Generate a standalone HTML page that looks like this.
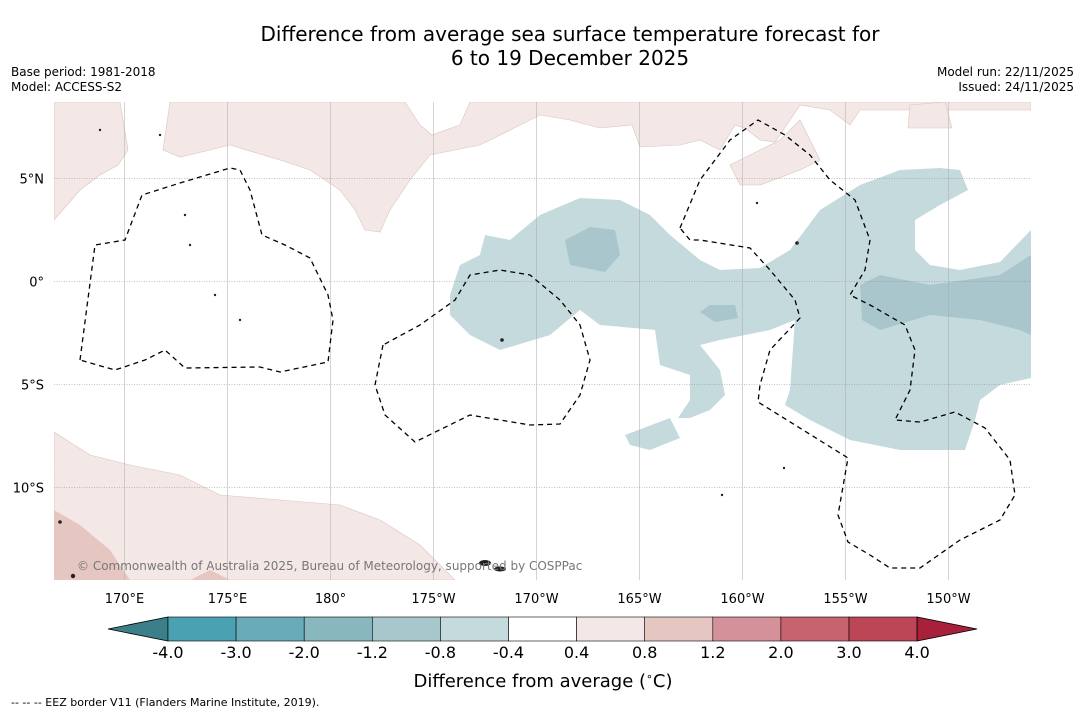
<!DOCTYPE html>
<html><head><meta charset="utf-8"><style>
body{margin:0;background:#fff;font-family:"DejaVu Sans","Liberation Sans",sans-serif}
#wrap{position:relative;width:1085px;height:713px;overflow:hidden}
.t{position:absolute;white-space:nowrap;color:#000}
svg text{font-family:"DejaVu Sans","Liberation Sans",sans-serif}
</style></head><body>
<div id="wrap">
<div class="t" style="left:0;width:1140px;top:22px;text-align:center;font-size:20px;line-height:24px">Difference from average sea surface temperature forecast for<br>6 to 19 December 2025</div>
<div class="t" style="left:11px;top:65px;font-size:12px;line-height:15px">Base period: 1981-2018<br>Model: ACCESS-S2</div>
<div class="t" style="right:11px;top:65px;font-size:12px;line-height:15px;text-align:right">Model run: 22/11/2025<br>Issued: 24/11/2025</div>
<svg id="map" width="1085" height="713" style="position:absolute;left:0;top:0">
<defs><clipPath id="mc"><rect x="54" y="102" width="977" height="478"/></clipPath></defs>
<g clip-path="url(#mc)">
<g fill="#f4e8e6" stroke="#d9c4c2" stroke-width="0.6">
<path d="M54,102L120,102L128,150L118,165L100,175L80,190L54,220Z"/>
<path d="M170,102L405,102L420,125L432,135L460,125L470,102L1031,102L1031,110L860,110L850,125L830,110L800,105L790,120L775,142L760,140L745,128L735,125L720,150L700,140L680,145L640,147L632,125L600,128L570,120L540,115L520,125L480,145L430,155L410,180L390,210L380,232L365,230L355,210L340,190L310,170L280,160L230,145L210,150L180,157L163,150Z"/>
<path d="M780,140L800,120L820,160L800,170L760,185L740,185L730,165L760,150Z"/>
<path d="M910,105L945,102L952,128L908,128Z"/>
<path d="M54,432L90,455L130,465L180,475L220,495L280,500L340,505L380,520L420,545L455,580L54,580Z"/>
</g>
<path d="M54,510L80,525L110,550L130,580L54,580Z M190,580L210,570L230,580Z" fill="#e6c6c1"/>
<g fill="#c5dadd">
<path d="M450,295L460,265L480,255L485,235L510,240L540,215L580,198L620,200L650,215L670,235L700,260L720,270L760,268L790,250L820,210L860,185L900,170L940,168L960,170L968,190L940,205L915,220L915,250L930,265L960,270L1000,262L1031,230L1031,378L1000,385L980,400L975,420L965,450L900,450L850,440L810,420L785,405L790,390L795,320L770,330L720,340L700,345L720,370L725,395L710,410L690,418L678,418L690,400L690,375L660,365L655,330L600,325L580,310L550,335L500,350L470,335L450,315Z"/>
<path d="M625,435L670,418L680,438L650,450L630,445Z"/>
</g>
<g fill="#a8c6cc">
<path d="M565,240L590,227L615,230L620,255L605,272L570,265Z"/>
<path d="M700,312L710,305L735,305L738,318L715,322Z"/>
<path d="M860,285L880,275L930,285L1000,275L1031,255L1031,335L1020,330L980,320L930,315L880,330L862,320Z"/>
</g>
<g id="grid"></g>
<g fill="none" stroke="#000" stroke-width="1.3" stroke-dasharray="5,4">
<path d="M80,360L95,245L125,240L142,195L180,183L230,168L240,170L250,190L262,235L285,245L310,258L328,295L333,320L328,362L280,372L260,367L185,368L165,350L145,360L115,370Z"/>
<path d="M383,345L375,385L385,415L415,442L470,415L530,425L560,424L580,395L590,360L580,325L560,300L530,275L500,270L470,275L455,300L420,325Z"/>
<path d="M680,228L700,180L730,140L758,120L785,135L810,155L830,180L855,200L870,240L865,270L850,295L870,305L905,325L915,350L910,390L895,420L920,422L955,412L985,428L1010,460L1015,495L1000,520L960,540L920,568L890,568L870,555L848,542L838,515L848,458L758,402L760,385L770,350L800,318L795,300L770,270L750,248L700,240L690,240Z"/>
</g>
<g fill="#222">
<circle cx="100" cy="130" r="1.2"/><circle cx="185" cy="215" r="1.2"/><circle cx="190" cy="245" r="1.2"/><circle cx="215" cy="295" r="1.2"/><circle cx="240" cy="320" r="1.2"/><circle cx="502" cy="340" r="1.8"/><circle cx="797" cy="243" r="1.8"/><circle cx="757" cy="203" r="1.2"/><circle cx="722" cy="495" r="1.2"/><circle cx="60" cy="522" r="1.8"/><circle cx="73" cy="576" r="2.2"/>
<ellipse cx="485" cy="563" rx="6" ry="3"/><ellipse cx="500" cy="569" rx="6" ry="2.5"/><circle cx="160" cy="135" r="1.2"/><circle cx="784" cy="468" r="1.2"/>
</g>
<text x="77" y="570" font-size="12" fill="#777">© Commonwealth of Australia 2025, Bureau of Meteorology, supported by COSPPac</text>
</g>
<g id="axes" font-size="13"></g>
<g id="cbar"></g>
<text x="543" y="687" font-size="18" text-anchor="middle">Difference from average (<tspan font-size="11" dy="-7">∘</tspan><tspan dy="7">C)</tspan></text>
<text x="11" y="706" font-size="11">--  --  -- EEZ border V11 (Flanders Marine Institute, 2019).</text>
</svg>
</div>
<script>
const lonTicks=[170,175,180,-175,-170,-165,-160,-155,-150];
const lonLabels=["170°E","175°E","180°","175°W","170°W","165°W","160°W","155°W","150°W"];
const latTicks=[5,0,-5,-10];
const latLabels=["5°N","0°","5°S","10°S"];
const cbarBounds=[-4.0,-3.0,-2.0,-1.2,-0.8,-0.4,0.4,0.8,1.2,2.0,3.0,4.0];
const cbarLabels=["-4.0","-3.0","-2.0","-1.2","-0.8","-0.4","0.4","0.8","1.2","2.0","3.0","4.0"];
const cbarColors=["#4aa1b1","#6aabb9","#88b7be","#a8c7cc","#c5dadd","#ffffff","#f4e8e6","#e6c6c1","#d4919a","#c6636f","#bc4556"];
const NS="http://www.w3.org/2000/svg";
function xLon(l){const e=l<0?l+360:l;return 124+(e-170)*20.6;}
function yLat(a){return 281-a*20.6;}
const grid=document.getElementById('grid'),axes=document.getElementById('axes'),cb=document.getElementById('cbar');
function mk(tag,at,parent){const e=document.createElementNS(NS,tag);for(const k in at)e.setAttribute(k,at[k]);parent.appendChild(e);return e;}
lonTicks.forEach((l,i)=>{const x=Math.round(xLon(l))+0.5;
const ln=mk('line',{x1:x,x2:x,y1:102,y2:580,stroke:'#aaa','stroke-width':0.5},grid);


const t=mk('text',{x:x,y:603,'text-anchor':'middle'},axes);t.textContent=lonLabels[i];

});
latTicks.forEach((a,i)=>{const y=Math.round(yLat(a))+0.5;
const ln=mk('line',{x1:54,x2:1031,y1:y,y2:y,stroke:'#888','stroke-width':0.5,'stroke-dasharray':'1,1.5'},grid);


const t=mk('text',{x:44,y:y+5,'text-anchor':'end'},axes);t.textContent=latLabels[i];

});
const cx0=168,cw=68.1,cy=617,ch=24;
const tl=mk('polygon',{points:`108,${cy+ch/2} ${cx0},${cy} ${cx0},${cy+ch}`,fill:'#3b7f89',stroke:'#000','stroke-width':0.8},cb);


cbarColors.forEach((c,i)=>{const r=mk('rect',{x:cx0+i*cw,y:cy,width:cw,height:ch,fill:c,stroke:'#000','stroke-width':0.6},cb);

});
const xe=cx0+cbarColors.length*cw;
const tr=mk('polygon',{points:`${xe},${cy} ${xe},${cy+ch} 977,${cy+ch/2}`,fill:'#a8203a',stroke:'#000','stroke-width':0.8},cb);


cbarBounds.forEach((v,i)=>{const t=mk('text',{x:cx0+i*cw,y:658,'text-anchor':'middle','font-size':16},cb);t.textContent=cbarLabels[i];

});
</script>
</body></html>
